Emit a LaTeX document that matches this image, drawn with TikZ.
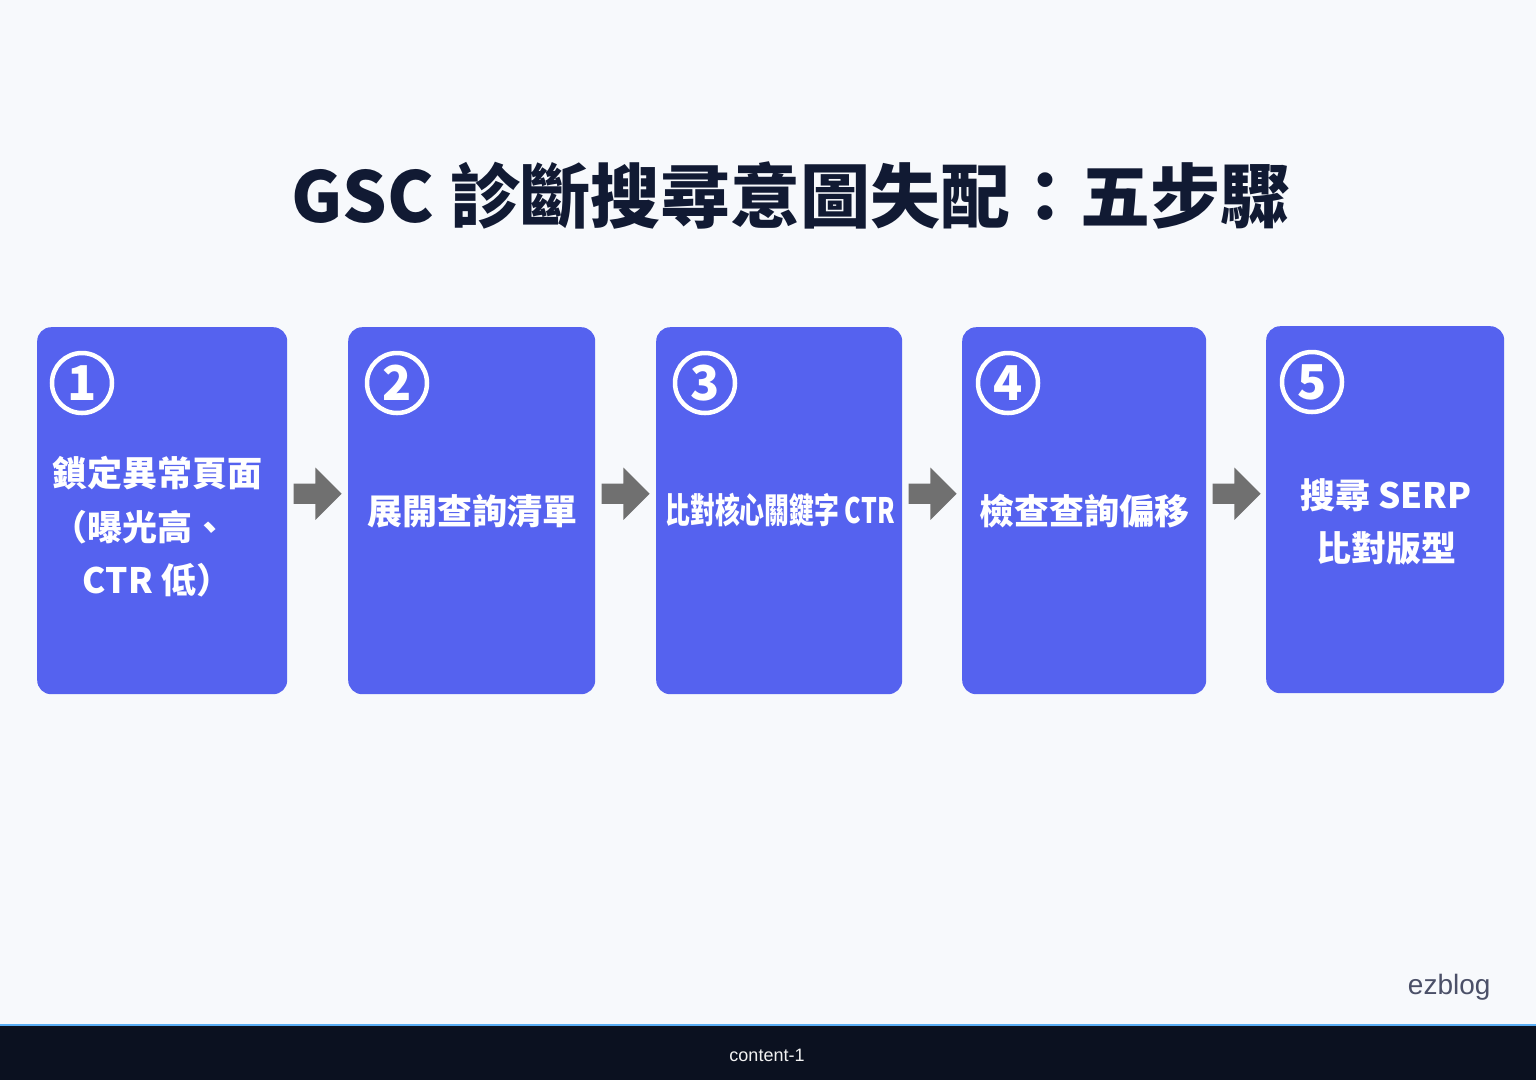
\documentclass[tikz,border=0pt]{standalone}
\usepackage{fontspec}
\setmainfont{Liberation Sans}
\newfontfamily\cjk{Noto Sans CJK TC}
\usetikzlibrary{shapes.arrows,calc}
\definecolor{bg}{HTML}{F7F9FC}
\definecolor{boxblue}{HTML}{5562EF}
\definecolor{titlec}{HTML}{111A33}
\definecolor{arrowg}{HTML}{707070}
\definecolor{footbg}{HTML}{0B1120}
\definecolor{footline}{HTML}{5AAEF5}
\definecolor{brand}{HTML}{4B5068}
\begin{document}
\begin{tikzpicture}[x=1pt,y=-1pt,
  stepbox/.style={fill=boxblue, rounded corners=14pt, draw=none, inner sep=0pt, anchor=north west, minimum height=367pt},
  numcirc/.style={circle, draw=white, line width=4.5pt, minimum size=60pt, inner sep=0pt, text=white, font=\cjk\bfseries\fontsize{48}{48}\selectfont},
  steptext/.style={text=white, align=center, inner sep=0pt, font=\cjk\bfseries\fontsize{35}{53.5}\selectfont},
  flowarrow/.style={single arrow, fill=arrowg, draw=none, inner sep=0pt, minimum height=48pt, minimum width=52pt, single arrow head extend=16pt, single arrow tip angle=90, anchor=tail}
]
\useasboundingbox (0,0) rectangle (1536,1080);
\fill[bg] (0,0) rectangle (1536,1080);
% footer
\fill[footbg] (0,1025) rectangle (1536,1080);
\fill[footline] (0,1023.5) rectangle (1536,1026);
\node[text=white!90!gray, font=\fontsize{18}{20}\selectfont] (foot) at (767,1055) {content-1};
\node[text=brand, font=\fontsize{28}{30}\selectfont, anchor=east] (brand) at (1494,987) {ezblog};
% title
\node[text=titlec, font=\cjk\bfseries\fontsize{70}{80}\selectfont] (title) at (791,195) {GSC 診斷搜尋意圖失配：五步驟};
% boxes
\node[stepbox, minimum width=250pt] (b1) at (37,327) {};
\node[stepbox, minimum width=247pt] (b2) at (348,327) {};
\node[stepbox, minimum width=246pt] (b3) at (656,327) {};
\node[stepbox, minimum width=244pt] (b4) at (962,327) {};
\node[stepbox, minimum width=238pt] (b5) at (1266,326) {};
% numbers
\node[numcirc] (n1) at (82,383) {1};
\node[numcirc] (n2) at (397,383) {2};
\node[numcirc] (n3) at (705,383) {3};
\node[numcirc] (n4) at (1008,383) {4};
\node[numcirc] (n5) at (1312,382) {5};
% texts
\node[steptext] (t1) at (157,527) {鎖定異常頁面\\（曝光高、\rule{34pt}{0pt}\\CTR 低）};
\node[steptext] (t2) at (472,511) {展開查詢清單};
\node[steptext] (t3) at (780,510) {\scalebox{0.71}[1]{比對核心關鍵字 CTR}};
\node[steptext] (t4) at (1084,511) {檢查查詢偏移};
\node[steptext] (t5) at (1386,522) {搜尋 SERP\\比對版型};
% arrows
\node[flowarrow] (a1) at ($(b1.east)+(6,-17)$) {\rule{0pt}{20pt}};
\node[flowarrow] (a2) at ($(b2.east)+(6,-17)$) {\rule{0pt}{20pt}};
\node[flowarrow] (a3) at ($(b3.east)+(6,-17)$) {\rule{0pt}{20pt}};
\node[flowarrow] (a4) at ($(b4.east)+(6,-17)$) {\rule{0pt}{20pt}};
\end{tikzpicture}
\end{document}
